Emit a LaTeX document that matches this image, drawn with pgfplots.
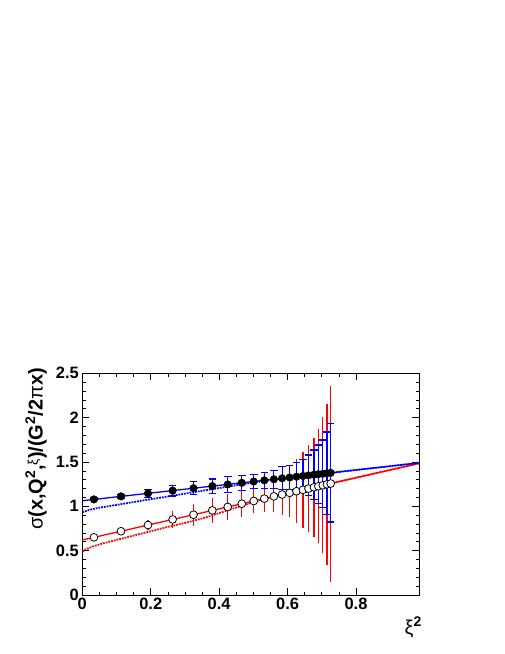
\documentclass[border=0pt]{standalone}
\usepackage{pgfplots}
\pgfplotsset{compat=1.18}
\usepackage{pgfplotstable}
\usepackage{fontspec}
\setmainfont{Liberation Sans}

% filled points (blue error bars)
\pgfplotstableread{
x y ey
0.034 1.078 0.015
0.113 1.112 0.020
0.192 1.146 0.045
0.264 1.177 0.060
0.325 1.204 0.075
0.380 1.228 0.080
0.425 1.247 0.092
0.466 1.265 0.085
0.501 1.280 0.080
0.532 1.293 0.090
0.560 1.305 0.100
0.584 1.316 0.130
0.606 1.325 0.135
0.626 1.334 0.160
0.645 1.342 0.190
0.661 1.349 0.230
0.677 1.356 0.280
0.690 1.362 0.330
0.703 1.367 0.380
0.715 1.373 0.465
0.726 1.377 0.553
}\filledtab

% open points (red error bars)
\pgfplotstableread{
x y ey
0.034 0.650 0.015
0.113 0.719 0.020
0.192 0.789 0.060
0.264 0.852 0.095
0.325 0.905 0.125
0.380 0.954 0.140
0.425 0.993 0.150
0.466 1.029 0.147
0.501 1.060 0.140
0.532 1.087 0.147
0.560 1.112 0.180
0.584 1.133 0.230
0.606 1.152 0.270
0.626 1.170 0.360
0.645 1.186 0.430
0.661 1.200 0.490
0.677 1.214 0.560
0.690 1.226 0.645
0.703 1.237 0.767
0.715 1.248 0.910
0.726 1.257 1.105
}\opentab

\begin{document}
\begin{tikzpicture}
\path[use as bounding box] (0,0) rectangle (505bp,654bp);
\begin{axis}[
  at={(82.3bp,59bp)}, anchor=south west,
  scale only axis, width=337bp, height=221.7bp,
  xmin=0, xmax=0.985, ymin=0, ymax=2.5,
  xtick={0,0.2,0.4,0.6,0.8}, xticklabels={0,0.2,0.4,0.6,0.8},
  ytick={0,0.5,1,1.5,2,2.5}, yticklabels={0,0.5,1,1.5,2,2.5},
  minor x tick num=3, minor y tick num=4,
  tick align=inside,
  major tick length=7bp, minor tick length=3.5bp,
  tick style={black, line width=0.6bp},
  axis line style={black, line width=0.8bp},
  tick label style={font=\fontsize{16.5}{16.5}\selectfont\bfseries},
  xlabel={{\mdseries ξ}\textsuperscript{2}},
  xlabel style={at={(axis description cs:1.008,-0.176)}, anchor=base east, inner sep=0pt, font=\fontsize{20}{20}\selectfont\bfseries},
  ylabel={{\mdseries σ}(x,Q\textsuperscript{2},\raisebox{0.45ex}{\fontsize{14}{14}\selectfont\mdseries ξ})/(G\textsuperscript{2}/2{\mdseries π}x)},
  ylabel style={at={(axis description cs:-0.118,1.024)}, anchor=base east, inner sep=0pt, font=\fontsize{20}{20}\selectfont\bfseries},
]
% solid lines
\addplot[red, line width=1.3bp] coordinates {(0,0.620) (0.985,1.485)};
\addplot[blue, line width=1.3bp] coordinates {(0,1.063) (0.985,1.490)};
% dotted lines
\addplot[red, densely dotted, line width=1.8bp, smooth] coordinates {
(0,0.488) (0.01,0.514) (0.03,0.546) (0.06,0.581) (0.1,0.621) (0.15,0.670)
(0.2,0.719) (0.25,0.768) (0.3,0.813) (0.35,0.863) (0.4,0.923) (0.45,0.987)
(0.5,1.047) (0.55,1.099) (0.6,1.147) (0.65,1.191) (0.985,1.485)};
\addplot[blue, densely dotted, line width=1.8bp, smooth] coordinates {
(0,0.932) (0.01,0.947) (0.03,0.969) (0.06,0.991) (0.1,1.016) (0.15,1.048)
(0.2,1.080) (0.25,1.111) (0.3,1.143) (0.35,1.175) (0.4,1.206) (0.45,1.238)
(0.5,1.268) (0.55,1.295) (0.6,1.321) (0.65,1.344) (0.985,1.490)};
% open points with red error bars
\addplot[red, only marks, mark=*, mark size=3.9bp,
  mark options={draw=black, fill=white, line width=0.8bp},
  error bars/.cd, y dir=both, y explicit, error mark=none,
  error bar style={red, line width=1.2bp}]
  table[x=x, y=y, y error=ey] {\opentab};
% filled points with blue error bars
\addplot[blue, only marks, mark=*, mark size=3.8bp,
  mark options={draw=black, fill=black},
  error bars/.cd, y dir=both, y explicit, error mark=-,
  error bar style={blue, line width=1.2bp},
  error mark options={rotate=90, blue, mark size=3.8bp, line width=1.2bp}]
  table[x=x, y=y, y error=ey] {\filledtab};
\end{axis}
\end{tikzpicture}
\end{document}
